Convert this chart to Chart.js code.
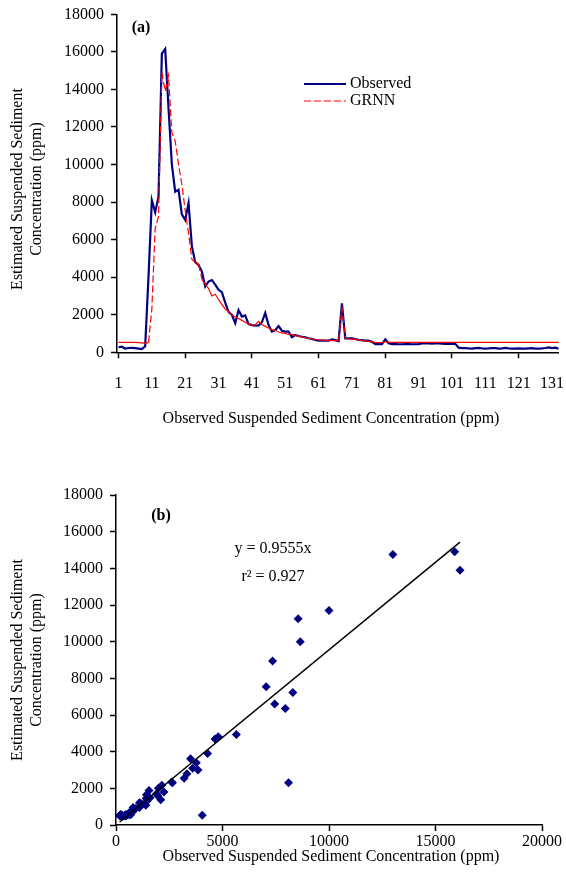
<!DOCTYPE html>
<html>
<head>
<meta charset="utf-8">
<title>Observed and GRNN suspended sediment concentration</title>
<script src="https://cdn.jsdelivr.net/npm/chart.js@4.4.0/dist/chart.umd.min.js"></script>
<style>
  html, body { margin: 0; padding: 0; background: #fff; }
  #wrap { position: relative; width: 566px; height: 884px; overflow: hidden; }
  canvas { position: absolute; left: 0; }
  #chartA { top: 0; }
  #chartB { top: 440px; }
</style>
</head>
<body>
<div id="wrap">
  <canvas id="chartA" width="566" height="440"></canvas>
  <canvas id="chartB" width="566" height="444"></canvas>
</div>
<script>
// observed suspended sediment (ppm), sample 1..133
const OBSERVED = [
  270, 300, 200, 230, 240, 220, 200, 170, 320, 4050,
  8100, 7450, 8300, 15900, 16150, 13000, 10000, 8550, 8650, 7350,
  7050, 7950, 5650, 4800, 4650, 4300, 3500, 3770, 3850, 3600,
  3330, 3200, 2650, 2150, 1990, 1550, 2250, 1900, 1960, 1500,
  1450, 1420, 1430, 1600, 2100, 1450, 1100, 1180, 1400, 1150,
  1100, 1100, 800, 920, 870, 830, 800, 750, 710, 660,
  620, 620, 620, 620, 690, 650, 600, 2610, 745, 745,
  745, 710, 660, 650, 620, 620, 560, 440, 440, 440,
  690, 480, 440, 440, 430, 430, 440, 440, 430, 430,
  440, 470, 480, 470, 460, 480, 470, 460, 450, 450,
  450, 450, 250, 220, 230, 210, 200, 220, 240, 210,
  200, 210, 230, 220, 200, 210, 230, 210, 200, 200,
  210, 200, 200, 210, 220, 200, 200, 210, 230, 260,
  220, 250, 190
];

// GRNN estimate (ppm), same samples
const GRNN = [
  530, 530, 530, 530, 530, 530, 520, 500, 480, 530,
  2300, 6600, 7230, 14900, 13900, 14750, 11700, 11250, 10000, 8950,
  7540, 6360, 4940, 4810, 4690, 3900, 3610, 3400, 3000, 3090,
  2800, 2550, 2300, 2170, 2000, 1880, 1800, 1700, 1600, 1500,
  1430, 1460, 1650, 1480, 1380, 1290, 1210, 1170, 1080, 1030,
  1010, 950, 960, 900, 850, 830, 760, 745, 710, 680,
  655, 650, 640, 630, 620, 620, 640, 2350, 750, 710,
  700, 690, 660, 620, 600, 580, 560, 520, 510, 510,
  560, 540, 530, 530, 530, 530, 530, 530, 530, 530,
  530, 530, 530, 530, 530, 530, 530, 530, 530, 530,
  530, 530, 530, 530, 530, 530, 530, 530, 530, 530,
  530, 530, 530, 530, 530, 530, 530, 530, 530, 530,
  530, 530, 530, 530, 530, 530, 530, 530, 530, 530,
  530, 530, 530
];

const SAMPLE_NO = OBSERVED.map((_, i) => i + 1);

const X_TICKS_A = [1, 11, 21, 31, 41, 51, 61, 71, 81, 91, 101, 111, 121, 131];
const Y_TICKS = [0, 2000, 4000, 6000, 8000, 10000, 12000, 14000, 16000, 18000];
const X_TICKS_B = [0, 5000, 10000, 15000, 20000];

const SLOPE = 0.9555;
const EQUATION = 'y = 0.9555x';
const R_SQUARED = 'r\u00B2 = 0.927';

const Y_TITLE = ['Estimated Suspended Sediment', 'Concentration (ppm)'];
const X_TITLE = 'Observed Suspended Sediment Concentration (ppm)';

const COLORS = {
  observed: '#000080', // navy
  grnn: '#FF0000',     // red
  axis: '#000000',
  trend: '#000000'
};

const FONT = "'Liberation Serif', 'Times New Roman', Times, serif";
Chart.defaults.font.family = FONT;
Chart.defaults.font.size = 16;
Chart.defaults.color = '#000';

function fixBox(width, height) {
  return function(scale) {
    if (width != null) scale.width = width;
    if (height != null) scale.height = height;
    scale.paddingLeft = 0; scale.paddingRight = 0;
    scale.paddingTop = 0; scale.paddingBottom = 0;
  };
}

function setTicks(values) {
  return function(scale) { scale.ticks = values.map(v => ({ value: v })); };
}

// plain numbers, no thousands separator
const plain = v => String(v);

function axisGrid(tickColor) {
  return {
    drawOnChartArea: false,
    drawTicks: true,
    tickLength: 6,
    tickWidth: 1.5,
    tickColor: tickColor || COLORS.axis
  };
}

function drawYTitle(ctx, xs, cy) {
  ctx.save();
  ctx.font = '16px ' + FONT;
  ctx.textAlign = 'center';
  ctx.textBaseline = 'middle';
  Y_TITLE.forEach((line, i) => {
    ctx.save();
    ctx.translate(xs[i], cy);
    ctx.rotate(-Math.PI / 2);
    ctx.fillText(line, 0, 0);
    ctx.restore();
  });
  ctx.restore();
}

function drawText(ctx, text, x, y, font) {
  ctx.save();
  ctx.font = font || ('16px ' + FONT);
  ctx.textAlign = 'center';
  ctx.textBaseline = 'middle';
  ctx.fillStyle = '#000';
  ctx.fillText(text, x, y);
  ctx.restore();
}

const annotA = {
  id: 'annotA',
  afterDraw(chart) {
    const ctx = chart.ctx;
    drawYTitle(ctx, [18, 37], 189);
    drawText(ctx, X_TITLE, 331, 419);
    drawText(ctx, '(a)', 141, 28, 'bold 16px ' + FONT);
    // legend
    ctx.save();
    ctx.lineWidth = 2;
    ctx.strokeStyle = COLORS.observed;
    ctx.beginPath(); ctx.moveTo(304, 84); ctx.lineTo(346, 84); ctx.stroke();
    ctx.lineWidth = 1.2;
    ctx.strokeStyle = COLORS.grnn;
    ctx.setLineDash([7, 3]);
    ctx.beginPath(); ctx.moveTo(304, 101); ctx.lineTo(346, 101); ctx.stroke();
    ctx.restore();
    ctx.save();
    ctx.font = '16px ' + FONT;
    ctx.textAlign = 'left';
    ctx.textBaseline = 'middle';
    ctx.fillText('Observed', 350, 84);
    ctx.fillText('GRNN', 350, 101);
    ctx.restore();
  }
};

const annotB = {
  id: 'annotB',
  afterDraw(chart) {
    const ctx = chart.ctx;
    drawYTitle(ctx, [18, 37], 220);
    drawText(ctx, X_TITLE, 331, 417);
    drawText(ctx, '(b)', 161, 76, 'bold 16px ' + FONT);
    drawText(ctx, EQUATION, 273, 109);
    drawText(ctx, R_SQUARED, 273, 137);
  }
};

function buildTopChart() {
  const ctx = document.getElementById('chartA').getContext('2d');
  const toPoints = arr => arr.map((v, i) => ({ x: SAMPLE_NO[i], y: v }));
  return new Chart(ctx, {
    type: 'line',
    data: {
      datasets: [
        {
          label: 'GRNN', data: toPoints(GRNN), order: 1,
          borderColor: COLORS.grnn, borderWidth: 1.2, pointRadius: 0, tension: 0,
          segment: {
            borderDash: c => Math.hypot(c.p1.x - c.p0.x, c.p1.y - c.p0.y) > 9 ? [7, 3] : undefined
          }
        },
        {
          label: 'Observed', data: toPoints(OBSERVED), order: 2,
          borderColor: COLORS.observed, borderWidth: 2.2, pointRadius: 0, tension: 0
        }
      ]
    },
    options: {
      responsive: false,
      animation: false,
      devicePixelRatio: 1,
      layout: { padding: { left: 0, top: 14.3, right: 7.3, bottom: 0 } },
      plugins: { legend: { display: false }, tooltip: { enabled: false } },
      scales: {
        x: {
          type: 'linear', min: 0.55, max: 133,
          afterBuildTicks: setTicks(X_TICKS_A),
          afterFit: fixBox(null, 440 - 352.3),
          ticks: { padding: 16, maxRotation: 0, autoSkip: false, callback: plain },
          grid: axisGrid(c => (c.tick && (c.tick.value - 1) % 20 === 0) ? COLORS.axis : 'rgba(0,0,0,0)'),
          border: { display: true, color: COLORS.axis, width: 1.5 }
        },
        y: {
          min: 0, max: 18000,
          afterBuildTicks: setTicks(Y_TICKS),
          afterFit: fixBox(117, null),
          ticks: { padding: 7, callback: plain },
          grid: axisGrid(),
          border: { display: true, color: COLORS.axis, width: 1.5 }
        }
      }
    },
    plugins: [annotA]
  });
}

function buildScatterChart() {
  const ctx = document.getElementById('chartB').getContext('2d');
  const pairs = OBSERVED.map((v, i) => ({ x: v, y: GRNN[i] }));
  const lo = Math.min(...OBSERVED), hi = Math.max(...OBSERVED);
  return new Chart(ctx, {
    type: 'scatter',
    data: {
      datasets: [
        {
          label: 'Trend', data: [{ x: lo, y: SLOPE * lo }, { x: hi, y: SLOPE * hi }],
          showLine: true, borderColor: COLORS.trend, borderWidth: 1.5, pointRadius: 0, order: 1
        },
        {
          label: 'GRNN vs observed', data: pairs, order: 2,
          pointStyle: 'rectRot', pointRadius: 4.5, borderWidth: 0,
          backgroundColor: COLORS.observed, borderColor: COLORS.observed, clip: 6
        }
      ]
    },
    options: {
      responsive: false,
      animation: false,
      devicePixelRatio: 1,
      layout: { padding: { left: 0, top: 55, right: 24, bottom: 0 } },
      plugins: { legend: { display: false }, tooltip: { enabled: false } },
      scales: {
        x: {
          type: 'linear', min: 0, max: 20000,
          afterBuildTicks: setTicks(X_TICKS_B),
          afterFit: fixBox(null, 444 - 385),
          ticks: { padding: 1, maxRotation: 0, callback: plain },
          grid: axisGrid(),
          border: { display: true, color: COLORS.axis, width: 1.5 }
        },
        y: {
          min: 0, max: 18000,
          afterBuildTicks: setTicks(Y_TICKS),
          afterFit: fixBox(116, null),
          ticks: { padding: 7, callback: plain },
          grid: axisGrid(),
          border: { display: true, color: COLORS.axis, width: 1.5 }
        }
      }
    },
    plugins: [annotB]
  });
}

buildTopChart();
buildScatterChart();
</script>
</body>
</html>
